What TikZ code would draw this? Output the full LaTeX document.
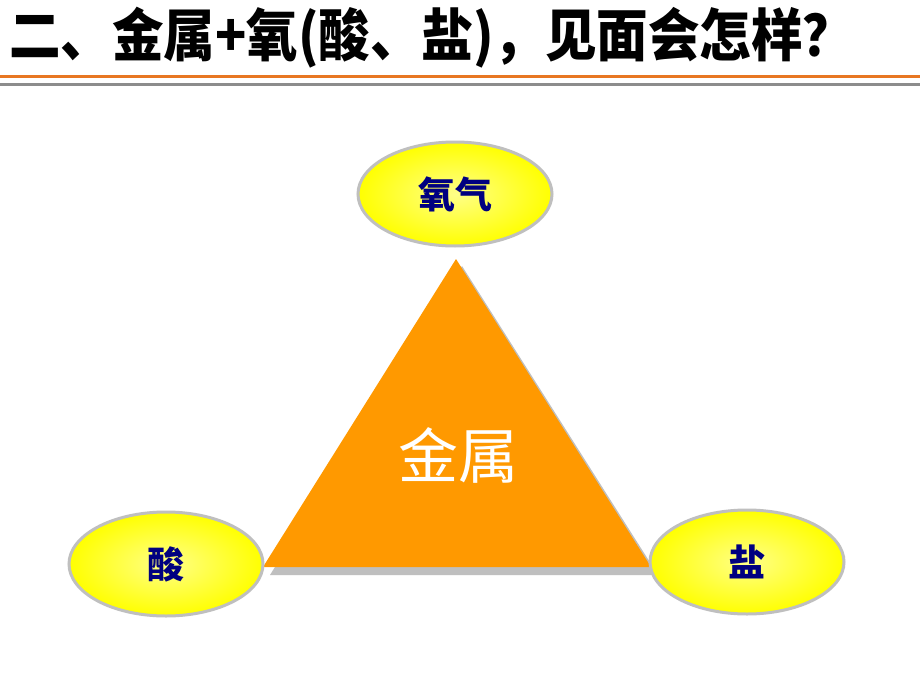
\documentclass[tikz,border=0pt]{standalone}
\usepackage{fontspec}
\setmainfont{Noto Sans CJK SC}
\usetikzlibrary{shadings,shapes.geometric}
\definecolor{titleorange}{HTML}{E87722}
\definecolor{titlegray}{HTML}{8C8C8C}
\definecolor{triorange}{HTML}{FF9900}
\definecolor{shadowgray}{HTML}{BFBFBF}
\definecolor{navy}{HTML}{000080}
\definecolor{ellyellow}{HTML}{FFFF00}
\definecolor{ellinner}{HTML}{FFFF88}
\tikzset{
  reagent/.style={ellipse, draw=shadowgray, line width=3pt, minimum width=194pt, minimum height=104pt,
    inner color=ellinner, outer color=ellyellow, text=navy, font=\fontsize{37}{37}\selectfont\bfseries},
  titletext/.style={anchor=west, inner sep=0pt, font=\fontsize{50}{50}\selectfont\bfseries},
}
\begin{document}
\begin{tikzpicture}[x=1pt,y=-1pt]
\useasboundingbox (0,0) rectangle (920,690);
\fill[white] (0,0) rectangle (920,690);
\node[titletext] (title) at (9,38) {\scalebox{1.03}[1.14]{二、金属+氧(酸、盐)，见面会怎样？}};
\draw[titleorange, line width=3pt] (0,77) -- (920,77);
\draw[titlegray, line width=3pt] (0,85) -- (920,85);
% triangle shadow
\fill[shadowgray] (462,266) -- (270,575) -- (658,575) -- cycle;
\fill[triorange] (456,259) -- (263,567) -- (651,567) -- cycle;
\node[text=white, font=\fontsize{60}{60}\selectfont] (metal) at (458,455) {金属};
\node[reagent] (oxygen) at (455,194) {氧气};
\node[reagent] (acid) at (166,564) {酸};
\node[reagent] (salt) at (747,562) {盐};
\end{tikzpicture}
\end{document}
